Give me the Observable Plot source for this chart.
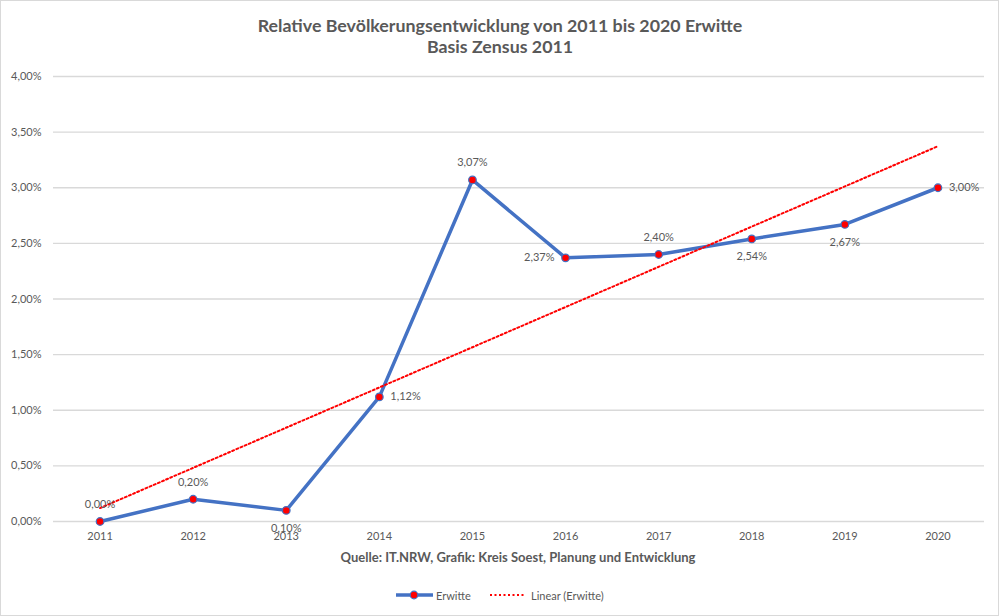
<!DOCTYPE html>
<html>
<head>
<meta charset="utf-8">
<script src="https://cdn.jsdelivr.net/npm/d3@7"></script>
<script src="https://cdn.jsdelivr.net/npm/@observablehq/plot@0.6"></script>
<style>
  html, body { margin: 0; padding: 0; background: #fff; }
  body { width: 1000px; height: 616px; position: relative; overflow: hidden; font-family: Lato, "Open Sans", sans-serif; color: #595959; }
  #frame { position: absolute; left: 0; top: 0; width: 999px; height: 616px; box-sizing: border-box; border: 1px solid #d9d9d9; }
  #title { position: absolute; left: 0; width: 1000px; top: 15px; text-align: center; font-weight: bold; font-size: 17.8px; line-height: 21px; }
  #chart { position: absolute; left: 0; top: 62px; }
  #caption { position: absolute; left: 218px; width: 600px; top: 548px; text-align: center; font-weight: bold; font-size: 13px; line-height: 18px; }
  #legend { position: absolute; top: 586px; left: 0; width: 1000px; height: 18px; font-size: 11px; }
  #legend .item { position: absolute; top: 0; display: flex; align-items: center; height: 18px; }
</style>
</head>
<body>
<div id="frame"></div>
<div id="title">Relative Bevölkerungsentwicklung von 2011 bis 2020 Erwitte<br>Basis Zensus 2011</div>
<div id="chart"></div>
<div id="caption"></div>
<div id="legend">
  <div class="item" style="left:395px">
    <svg width="40" height="18"><line x1="1" x2="38" y1="9" y2="9" stroke="#4472C4" stroke-width="3.5"/><circle cx="19" cy="9" r="3.8" fill="#FF0000" stroke="#4472C4" stroke-width="1.2"/></svg>
    <span style="margin-left:1px" id="legendSeries"></span>
  </div>
  <div class="item" style="left:489px">
    <svg width="38" height="18"><line x1="1" x2="36" y1="9" y2="9" stroke="#FF0000" stroke-width="2" stroke-dasharray="2,2.5"/></svg>
    <span style="margin-left:4px" id="legendTrend"></span>
  </div>
</div>
<script>
// ---- data ----
const years = [2011, 2012, 2013, 2014, 2015, 2016, 2017, 2018, 2019, 2020];
const values = [0.00, 0.20, 0.10, 1.12, 3.07, 2.37, 2.40, 2.54, 2.67, 3.00];
const yTicks = [0, 0.5, 1, 1.5, 2, 2.5, 3, 3.5, 4];
const seriesName = "Erwitte";
const trendName = "Linear (Erwitte)";
const sourceText = "Quelle: IT.NRW, Grafik: Kreis Soest, Planung und Entwicklung";

// ---- render ----
document.getElementById("caption").textContent = sourceText;
document.getElementById("legendSeries").textContent = seriesName;
document.getElementById("legendTrend").textContent = trendName;

const data = years.map((year, i) => ({year, value: values[i]}));
const fmt = v => v.toFixed(2).replace(".", ",") + "%";

const placement = {2013: "below", 2014: "right", 2016: "left", 2018: "below", 2019: "below", 2020: "right"};
const place = d => placement[d.year] || "above";

const blue = "#4472C4";
const labelStyle = {x: "year", y: "value", text: d => fmt(d.value), fill: "#595959", fontSize: 11};

const chart = Plot.plot({
  width: 1000,
  height: 480,
  marginTop: 14,
  marginBottom: 21,
  marginLeft: 53,
  marginRight: 16,
  style: {fontFamily: "Lato, 'Open Sans', sans-serif", color: "#595959", background: "transparent"},
  x: {type: "linear", domain: [2010.5, 2020.5], ticks: years, tickFormat: d => String(d), tickSize: 0, tickPadding: 11, label: null},
  y: {domain: [0, 4], ticks: yTicks, tickFormat: fmt, tickSize: 0, tickPadding: 12, label: null},
  marks: [
    Plot.ruleY(yTicks, {stroke: "#d9d9d9", strokeWidth: 1.3}),
    Plot.axisX({ticks: years, tickFormat: d => String(d), tickSize: 0, tickPadding: 11, fontSize: 11, fill: "#595959", label: null}),
    Plot.axisY({ticks: yTicks, tickFormat: fmt, tickSize: 0, tickPadding: 12, fontSize: 11, fill: "#595959", label: null}),
    Plot.lineY(data, {x: "year", y: "value", stroke: blue, strokeWidth: 3.5, strokeLinejoin: "round"}),
    Plot.linearRegressionY(data, {x: "year", y: "value", stroke: "#FF0000", strokeWidth: 2, strokeDasharray: "2,2.5", ci: 0}),
    Plot.dot(data, {x: "year", y: "value", r: 3.8, fill: "#FF0000", stroke: blue, strokeWidth: 1.2}),
    Plot.text(data.filter(d => place(d) === "above"), {...labelStyle, dy: -17}),
    Plot.text(data.filter(d => place(d) === "below"), {...labelStyle, dy: 18}),
    Plot.text(data.filter(d => place(d) === "right"), {...labelStyle, dx: 11, textAnchor: "start"}),
    Plot.text(data.filter(d => place(d) === "left"), {...labelStyle, dx: -11, textAnchor: "end"})
  ]
});
document.getElementById("chart").appendChild(chart);
</script>
</body>
</html>
